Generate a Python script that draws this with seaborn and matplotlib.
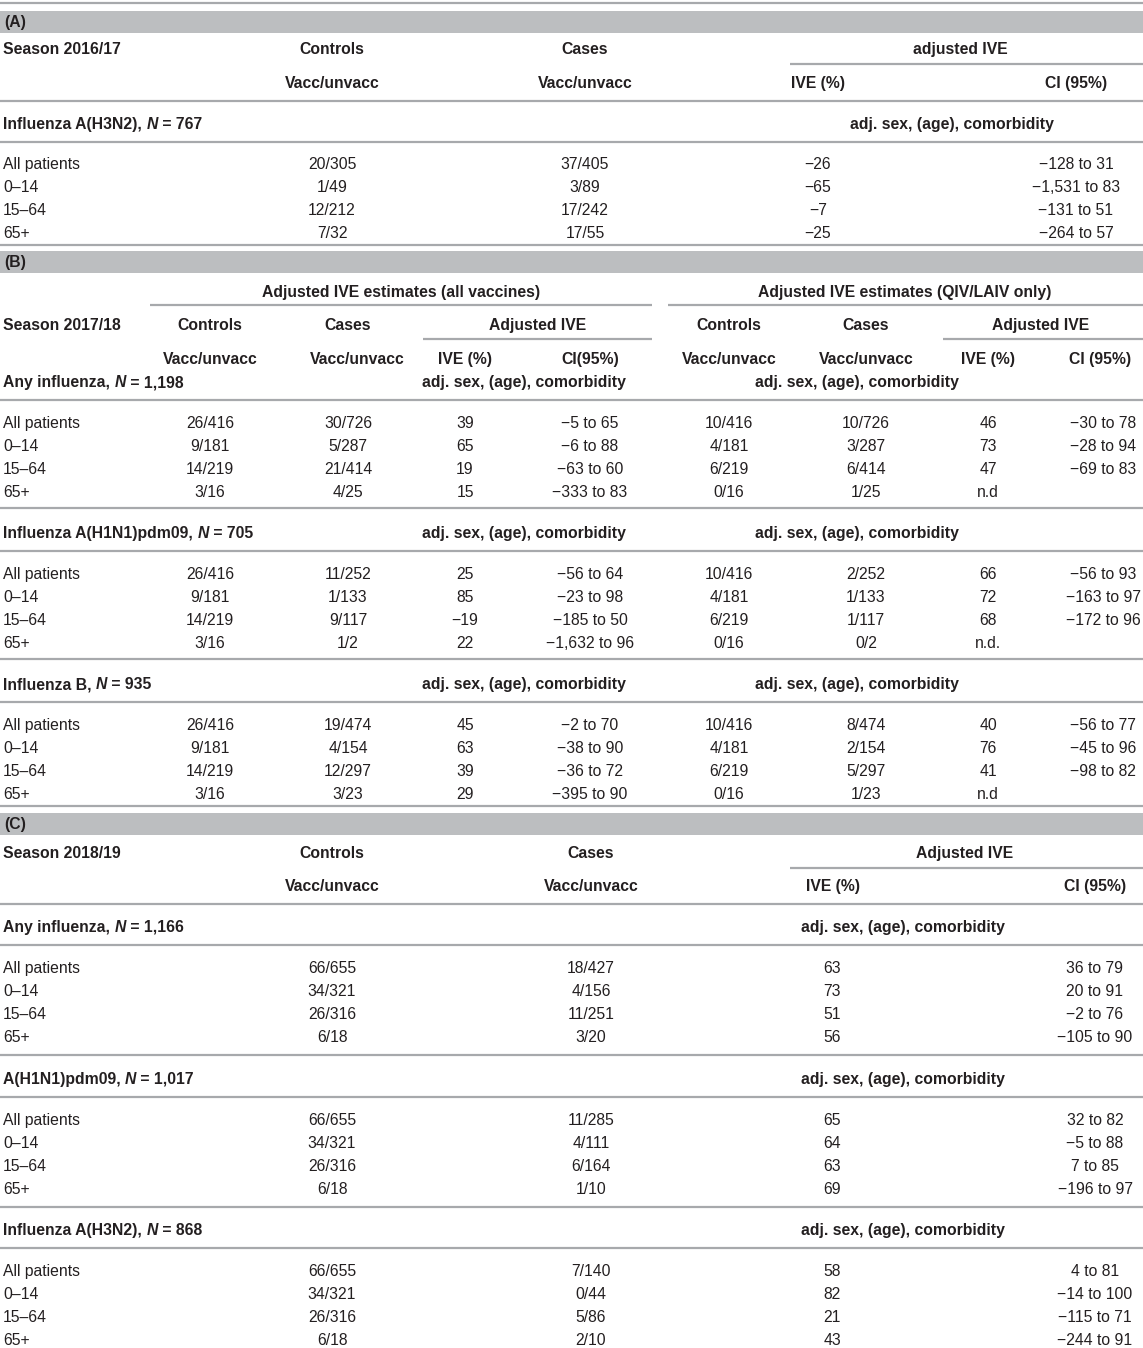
import matplotlib
matplotlib.use("Agg")
import matplotlib.pyplot as plt
import seaborn as sns

sns.set_theme(style="white")
plt.rcParams['font.family'] = ['Liberation Sans', 'DejaVu Sans']

# ---------------- data ----------------
ages = ["All patients", "0–14", "15–64", "65+"]

# (A) season 2016/17
A_group = ("Influenza A(H3N2), ", "767")
A_ctrl = ["20/305", "1/49", "12/212", "7/32"]
A_case = ["37/405", "3/89", "17/242", "17/55"]
A_ive = ["−26", "−65", "−7", "−25"]
A_ci = ["−128 to 31", "−1,531 to 83", "−131 to 51", "−264 to 57"]

# (B) season 2017/18
B_groups = [("Any influenza, ", "1,198"), ("Influenza A(H1N1)pdm09, ", "705"), ("Influenza B, ", "935")]
B_all_ctrl = [["26/416", "9/181", "14/219", "3/16"],
              ["26/416", "9/181", "14/219", "3/16"],
              ["26/416", "9/181", "14/219", "3/16"]]
B_all_case = [["30/726", "5/287", "21/414", "4/25"],
              ["11/252", "1/133", "9/117", "1/2"],
              ["19/474", "4/154", "12/297", "3/23"]]
B_all_ive = [["39", "65", "19", "15"],
             ["25", "85", "−19", "22"],
             ["45", "63", "39", "29"]]
B_all_ci = [["−5 to 65", "−6 to 88", "−63 to 60", "−333 to 83"],
            ["−56 to 64", "−23 to 98", "−185 to 50", "−1,632 to 96"],
            ["−2 to 70", "−38 to 90", "−36 to 72", "−395 to 90"]]
B_q_ctrl = [["10/416", "4/181", "6/219", "0/16"],
            ["10/416", "4/181", "6/219", "0/16"],
            ["10/416", "4/181", "6/219", "0/16"]]
B_q_case = [["10/726", "3/287", "6/414", "1/25"],
            ["2/252", "1/133", "1/117", "0/2"],
            ["8/474", "2/154", "5/297", "1/23"]]
B_q_ive = [["46", "73", "47", "n.d"],
           ["66", "72", "68", "n.d."],
           ["40", "76", "41", "n.d"]]
B_q_ci = [["−30 to 78", "−28 to 94", "−69 to 83", ""],
          ["−56 to 93", "−163 to 97", "−172 to 96", ""],
          ["−56 to 77", "−45 to 96", "−98 to 82", ""]]

# (C) season 2018/19
C_groups = [("Any influenza, ", "1,166"), ("A(H1N1)pdm09, ", "1,017"), ("Influenza A(H3N2), ", "868")]
C_ctrl = [["66/655", "34/321", "26/316", "6/18"],
          ["66/655", "34/321", "26/316", "6/18"],
          ["66/655", "34/321", "26/316", "6/18"]]
C_case = [["18/427", "4/156", "11/251", "3/20"],
          ["11/285", "4/111", "6/164", "1/10"],
          ["7/140", "0/44", "5/86", "2/10"]]
C_ive = [["63", "73", "51", "56"],
         ["65", "64", "63", "69"],
         ["58", "82", "21", "43"]]
C_ci = [["36 to 79", "20 to 91", "−2 to 76", "−105 to 90"],
        ["32 to 82", "−5 to 88", "7 to 85", "−196 to 97"],
        ["4 to 81", "−14 to 100", "−115 to 71", "−244 to 91"]]

ADJ = "adj. sex, (age), comorbidity"

# ---------------- styling ----------------
W, H = 1143, 1348
TXT = "#231f20"
LINE = "#a7a9ac"
BAND = "#bcbec0"
FS = 11.3
ROW = 23
DY = 1.5

fig = plt.figure(figsize=(W / 100, H / 100), dpi=100)
ax = fig.add_axes([0, 0, 1, 1])
ax.set_xlim(0, W)
ax.set_ylim(H, 0)
ax.axis("off")
renderer = fig.canvas.get_renderer()


def txt(x, y, s, ha="center", bold=False, style="normal"):
    return ax.text(x, y + DY, s, ha=ha, va="center", fontsize=FS, color=TXT,
                   fontweight="bold" if bold else "normal", style=style)


def hline(y, x0=0, x1=W):
    ax.hlines(y, x0, x1, color=LINE, lw=1.6)


def band(y0, y1, label):
    ax.axhspan(y0, y1, xmin=0, xmax=1, color=BAND, lw=0)
    txt(4, (y0 + y1) / 2 - 0.5, label, ha="left", bold=True)


def group_label(y, prefix, n):
    x = 3
    for s, st in [(prefix, "normal"), ("N", "italic"), (" = " + n, "normal")]:
        t = txt(x, y, s, ha="left", bold=True, style=st)
        bb = t.get_window_extent(renderer)
        x = ax.transData.inverted().transform((bb.x1, 0))[0]


def data_rows(y0, cols):
    for i, age in enumerate(ages):
        y = y0 + i * ROW
        txt(3, y, age, ha="left")
        for xc, vals in cols:
            if vals[i]:
                txt(xc, y, vals[i])


# ---------------- (A) ----------------
hline(3)
band(11, 33, "(A)")
txt(3, 48, "Season 2016/17", ha="left", bold=True)
txt(332, 48, "Controls", bold=True)
txt(585, 48, "Cases", bold=True)
txt(960, 48, "adjusted IVE", bold=True)
hline(64, 790, W)
txt(332, 82, "Vacc/unvacc", bold=True)
txt(585, 82, "Vacc/unvacc", bold=True)
txt(818, 82, "IVE (%)", bold=True)
txt(1076, 82, "CI (95%)", bold=True)
hline(101)
group_label(123, *A_group)
txt(952, 123, ADJ, bold=True)
hline(142)
data_rows(163, [(332, A_ctrl), (585, A_case), (818, A_ive), (1076, A_ci)])
hline(245)

# ---------------- (B) ----------------
band(251, 273, "(B)")
txt(401, 291, "Adjusted IVE estimates (all vaccines)", bold=True)
txt(905, 291, "Adjusted IVE estimates (QIV/LAIV only)", bold=True)
hline(305, 150, 652)
hline(305, 668, W)
txt(3, 324, "Season 2017/18", ha="left", bold=True)
txt(210, 324, "Controls", bold=True)
txt(348, 324, "Cases", bold=True)
txt(538, 324, "Adjusted IVE", bold=True)
txt(729, 324, "Controls", bold=True)
txt(866, 324, "Cases", bold=True)
txt(1041, 324, "Adjusted IVE", bold=True)
hline(339, 423, 652)
hline(339, 943, W)
txt(210, 358, "Vacc/unvacc", bold=True)
txt(357, 358, "Vacc/unvacc", bold=True)
txt(465, 358, "IVE (%)", bold=True)
txt(590, 358, "CI(95%)", bold=True)
txt(729, 358, "Vacc/unvacc", bold=True)
txt(866, 358, "Vacc/unvacc", bold=True)
txt(988, 358, "IVE (%)", bold=True)
txt(1100, 358, "CI (95%)", bold=True)

B_header_y = [381, 532, 683]
for g, (prefix, n) in enumerate(B_groups):
    yh = B_header_y[g]
    group_label(yh, prefix, n)
    txt(524, yh, ADJ, bold=True)
    txt(857, yh, ADJ, bold=True)
    hline(yh + 19)
    data_rows(yh + 41, [(210, B_all_ctrl[g]), (348, B_all_case[g]), (465, B_all_ive[g]),
                        (590, B_all_ci[g]), (729, B_q_ctrl[g]), (866, B_q_case[g]),
                        (988, B_q_ive[g]), (1103, B_q_ci[g])])
    hline(yh + 41 + 3 * ROW + 17 if g < 2 else 806)

# ---------------- (C) ----------------
band(813, 835, "(C)")
txt(3, 852, "Season 2018/19", ha="left", bold=True)
txt(332, 852, "Controls", bold=True)
txt(591, 852, "Cases", bold=True)
txt(965, 852, "Adjusted IVE", bold=True)
hline(868, 790, W)
txt(332, 885, "Vacc/unvacc", bold=True)
txt(591, 885, "Vacc/unvacc", bold=True)
txt(833, 885, "IVE (%)", bold=True)
txt(1095, 885, "CI (95%)", bold=True)
hline(904)

C_header_y = [926, 1078, 1229]
for g, (prefix, n) in enumerate(C_groups):
    yh = C_header_y[g]
    group_label(yh, prefix, n)
    txt(903, yh, ADJ, bold=True)
    hline(yh + 19)
    data_rows(yh + 41, [(332, C_ctrl[g]), (591, C_case[g]), (832, C_ive[g]), (1095, C_ci[g])])
    if g < 2:
        hline(yh + 41 + 3 * ROW + 19)

fig.savefig("out.png", dpi=100, facecolor="white")
